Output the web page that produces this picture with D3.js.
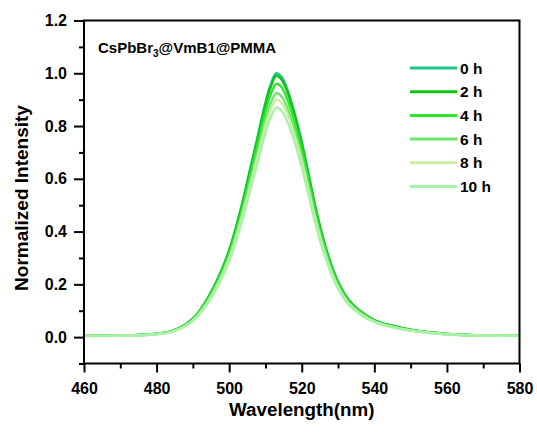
<!DOCTYPE html>
<html><head><meta charset="utf-8">
<script src="https://cdn.jsdelivr.net/npm/d3@7/dist/d3.min.js"></script>
<style>body{margin:0;background:#fff}svg{display:block}text{font-family:Arial,"Liberation Sans",sans-serif;font-weight:bold;fill:#000}</style>
</head><body><svg id="c" width="537" height="432"></svg>
<script>
const wavelengths=[460,470,478,484,488,491,494,497,500,503,506,508,510,511.5,513,514.5,516,518,520,522,524,526,528,530,533,536,540,545,550,560,570,580];
const i0h=[0.005,0.006,0.010,0.022,0.048,0.085,0.145,0.225,0.330,0.475,0.650,0.770,0.890,0.960,1.000,0.985,0.940,0.850,0.740,0.610,0.480,0.370,0.280,0.210,0.140,0.100,0.065,0.043,0.028,0.012,0.007,0.005];
const i2h=[0.005,0.006,0.010,0.022,0.048,0.084,0.144,0.223,0.327,0.470,0.644,0.762,0.881,0.950,0.990,0.975,0.931,0.842,0.733,0.604,0.475,0.366,0.277,0.208,0.139,0.099,0.064,0.043,0.028,0.012,0.007,0.005];
const i4h=[0.005,0.006,0.010,0.021,0.046,0.082,0.139,0.216,0.317,0.456,0.624,0.739,0.854,0.922,0.960,0.946,0.902,0.816,0.710,0.586,0.461,0.355,0.269,0.202,0.134,0.096,0.062,0.041,0.027,0.012,0.007,0.005];
const i6h=[0.005,0.006,0.009,0.020,0.044,0.079,0.134,0.208,0.305,0.439,0.601,0.712,0.823,0.888,0.925,0.911,0.870,0.786,0.685,0.564,0.444,0.342,0.259,0.194,0.130,0.093,0.060,0.040,0.026,0.011,0.006,0.005];
const i8h=[0.005,0.005,0.009,0.020,0.043,0.077,0.131,0.203,0.297,0.428,0.585,0.693,0.801,0.864,0.900,0.887,0.846,0.765,0.666,0.549,0.432,0.333,0.252,0.189,0.126,0.090,0.059,0.039,0.025,0.011,0.006,0.005];
const i10h=[0.004,0.005,0.009,0.019,0.042,0.074,0.126,0.196,0.287,0.413,0.566,0.670,0.774,0.835,0.870,0.857,0.818,0.740,0.644,0.531,0.418,0.322,0.244,0.183,0.122,0.087,0.057,0.037,0.024,0.010,0.006,0.004];
const seriesNames=["0 h","2 h","4 h","6 h","8 h","10 h"];
const seriesValues=[i0h,i2h,i4h,i6h,i8h,i10h];
const seriesColors=["#1dc48c","#11c411","#2ee52e","#6fe46f","#cdeea0","#a9f0a9"];
const xTicks=[460,480,500,520,540,560,580];
const yTicks=[0.0,0.2,0.4,0.6,0.8,1.0,1.2];

const svg=d3.select("#c");
const L=84,R=519.5,T=20.5,B=363.5;
const x=d3.scaleLinear().domain([460,580]).range([L,R]);
const y=d3.scaleLinear().domain([-0.1,1.2]).range([B,T]);

const line=d3.line().x((d,i)=>x(wavelengths[i])).y(d=>y(d)).curve(d3.curveCatmullRom.alpha(0.5));
seriesValues.forEach((vals,k)=>{
  svg.append("path").attr("d",line(vals)).attr("fill","none")
    .attr("stroke",seriesColors[k]).attr("stroke-width",2.4).attr("stroke-linejoin","round");
});

// frame
svg.append("rect").attr("x",L).attr("y",T).attr("width",R-L).attr("height",B-T)
  .attr("fill","none").attr("stroke","#000").attr("stroke-width",2);

// x axis
const xMinor=d3.range(470,580,20);
const gx=svg.append("g").attr("transform",`translate(0,${B})`);
gx.call(d3.axisBottom(x).tickValues(xTicks).tickSize(9).tickPadding(5).tickFormat(d3.format("d")));
gx.append("g").call(d3.axisBottom(x).tickValues(xMinor).tickSize(5).tickFormat(""));
gx.selectAll(".domain").remove();
gx.selectAll("line").attr("stroke","#000").attr("stroke-width",2);
gx.selectAll("text").attr("font-size",16).attr("dy","1.0em").attr("font-family",null).attr("font-weight","bold");

// y axis
const yMinor=d3.range(-0.1,1.2,0.2).map(v=>+v.toFixed(1));
const gy=svg.append("g").attr("transform",`translate(${L},0)`);
gy.call(d3.axisLeft(y).tickValues(yTicks).tickSize(10).tickPadding(7).tickFormat(d3.format(".1f")));
gy.append("g").call(d3.axisLeft(y).tickValues(yMinor).tickSize(5).tickFormat(""));
gy.selectAll(".domain").remove();
gy.selectAll("line").attr("stroke","#000").attr("stroke-width",2);
gy.selectAll("text").attr("font-size",16).attr("font-family",null).attr("font-weight","bold");

// axis titles
svg.append("text").attr("x",(L+R)/2).attr("y",416).attr("text-anchor","middle").attr("font-size",18.8).text("Wavelength(nm)");
svg.append("text").attr("transform",`translate(28,${(T+B)/2 + 6}) rotate(-90)`).attr("text-anchor","middle").attr("font-size",19).text("Normalized Intensity");

// title
const t=svg.append("text").attr("x",98).attr("y",53).attr("font-size",15);
t.append("tspan").text("CsPbBr");
t.append("tspan").attr("font-size",10).attr("dy",4).text("3");
t.append("tspan").attr("dy",-4).text("@VmB1@PMMA");

// legend
const lg=svg.append("g");
seriesNames.forEach((n,i)=>{
  const yy=68+23.7*i;
  lg.append("line").attr("x1",410).attr("x2",457).attr("y1",yy).attr("y2",yy).attr("stroke",seriesColors[i]).attr("stroke-width",3);
  lg.append("text").attr("x",460).attr("y",yy+5.5).attr("font-size",15.5).text(n);
});
</script></body></html>
